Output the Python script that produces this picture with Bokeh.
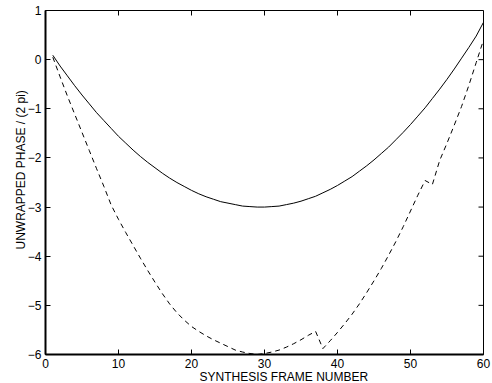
import math
from bokeh.plotting import figure
from bokeh.models import FixedTicker, Range1d, Title
from bokeh.embed import file_html
from bokeh.resources import INLINE

frames = list(range(1, 61))

solid_phase = [
    0.09, -0.13, -0.33, -0.53, -0.72, -0.90, -1.08, -1.24, -1.40, -1.56,
    -1.70, -1.84, -1.97, -2.09, -2.20, -2.31, -2.41, -2.50, -2.58, -2.66,
    -2.73, -2.79, -2.84, -2.89, -2.92, -2.95, -2.98, -2.99, -3.00, -3.00,
    -2.99, -2.98, -2.95, -2.92, -2.88, -2.83, -2.78, -2.71, -2.64, -2.56,
    -2.47, -2.38, -2.27, -2.16, -2.04, -1.91, -1.78, -1.63, -1.48, -1.32,
    -1.15, -0.98, -0.79, -0.60, -0.40, -0.19, 0.03, 0.25, 0.48, 0.76,
]

dashed_phase = [
    0.05, -0.35, -0.74, -1.11, -1.48, -1.85, -2.22, -2.58, -2.96, -3.25,
    -3.52, -3.78, -4.04, -4.29, -4.53, -4.76, -4.97, -5.15, -5.30, -5.43,
    -5.53, -5.62, -5.70, -5.77, -5.84, -5.91, -5.95, -5.98, -6.00, -5.98,
    -5.95, -5.91, -5.85, -5.78, -5.70, -5.61, -5.53, -5.88, -5.72, -5.55,
    -5.37, -5.18, -4.97, -4.74, -4.50, -4.25, -3.98, -3.70, -3.40, -3.08,
    -2.76, -2.46, -2.54, -2.05, -1.70, -1.33, -0.95, -0.52, -0.06, 0.40,
]

x_ticks = [0, 10, 20, 30, 40, 50, 60]
y_ticks = [-6, -5, -4, -3, -2, -1, 0, 1]
x_lo, x_hi = 0, 60
y_lo, y_hi = -6, 1

x_title = "SYNTHESIS FRAME NUMBER"
y_title = "UNWRAPPED PHASE / (2 pi)"

FONT = "Liberation Sans"

p = figure(width=492, height=383, output_backend="svg", toolbar_location=None,
           x_range=Range1d(x_lo, x_hi), y_range=Range1d(y_lo, y_hi),
           min_border_left=45, min_border_right=9, min_border_top=10,
           min_border_bottom=29)
p.grid.visible = False
p.outline_line_color = "black"
p.outline_line_width = 1
p.background_fill_color = "white"
p.border_fill_color = "white"

p.line(frames, solid_phase, line_color="black", line_width=1)
p.line(frames, dashed_phase, line_color="black", line_width=1, line_dash="5 4")

# inward ticks on the top and right edges of the box
p.ray(x=x_ticks, y=[y_hi] * len(x_ticks), length=5, length_units="screen",
      angle=-math.pi / 2, line_color="black", line_width=1)
p.ray(x=[x_hi] * len(y_ticks), y=y_ticks, length=5, length_units="screen",
      angle=math.pi, line_color="black", line_width=1)

def minus(v):
    return str(v).replace("-", "\u2212")

for ax in p.xaxis:
    ax.ticker = FixedTicker(ticks=x_ticks)
    ax.major_label_overrides = {t: minus(t) for t in x_ticks}
for ax in p.yaxis:
    ax.ticker = FixedTicker(ticks=y_ticks)
    ax.major_label_overrides = {t: minus(t) for t in y_ticks}

for ax in list(p.xaxis) + list(p.yaxis):
    ax.minor_tick_line_color = None
    ax.major_tick_in = 5
    ax.major_tick_out = 0
    ax.axis_line_width = 2
    ax.major_label_text_font = FONT
    ax.major_label_text_font_size = "12px"
    ax.major_label_text_color = "black"
p.xaxis.major_label_standoff = 4
p.yaxis.major_label_standoff = 4

# axis titles as side titles, offset along the axis like the reference
p.add_layout(Title(text=x_title, align="left", offset=154, standoff=-6,
                   text_font=FONT, text_font_size="12px",
                   text_font_style="normal", text_color="black"), "below")
p.add_layout(Title(text=y_title, align="left", offset=105, standoff=-6,
                   text_font=FONT, text_font_size="12px",
                   text_font_style="normal", text_color="black"), "left")

open("out.html", "w").write(file_html(p, INLINE))
